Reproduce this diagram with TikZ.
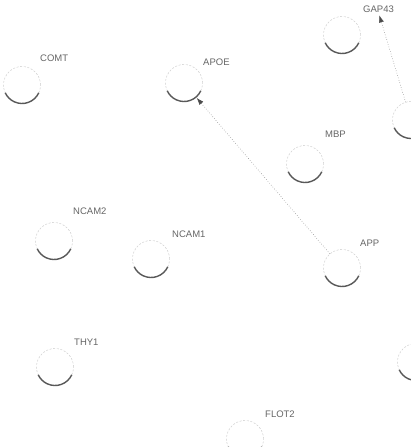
\documentclass[tikz,border=0pt]{standalone}
\usepackage{fontspec}
\setmainfont{Liberation Sans}
\usetikzlibrary{arrows.meta}
\tikzset{
  gene/.style={circle, minimum size=37pt, inner sep=0pt, draw=gray!45, line width=0.4pt, dash pattern=on 2pt off 1.6pt},
  genebottom/.style={draw=black!65, line width=1.4pt},
  genelabel/.style={anchor=west, inner sep=0pt, text=black!60, font=\fontsize{9.5}{10}\selectfont},
  link/.style={draw=black!55, line width=0.5pt, dotted, -{Latex[length=7pt,width=5pt,color=black!70]}},
}
\newcommand\genenode[3]{%
  \node[gene] (#1) at (#2,#3) {};
  \draw[genebottom] ([shift={(#2,#3)}]25:18.5) arc[start angle=25,end angle=155,radius=18.5];
}
\begin{document}
\begin{tikzpicture}[x=1pt,y=-1pt]
\useasboundingbox (0,0) rectangle (411,447);
\clip (0,0) rectangle (411,447);
\fill[white] (0,0) rectangle (411,447);
\genenode{COMT}{22}{85}
\genenode{APOE}{184}{83}
\genenode{GAP43}{342}{35}
\genenode{R1}{411}{120}
\genenode{MBP}{305}{164}
\genenode{NCAM2}{54}{241}
\genenode{NCAM1}{151}{259}
\genenode{APP}{342}{268}
\genenode{THY1}{55}{367}
\genenode{R2}{416}{362}
\genenode{FLOT2}{245}{439}
\node[genelabel] (COMT-l) at (40,58) {COMT};
\node[genelabel] (APOE-l) at (203,62) {APOE};
\node[genelabel] (GAP43-l) at (363,9) {GAP43};
\node[genelabel] (MBP-l) at (325,134) {MBP};
\node[genelabel] (NCAM2-l) at (73,211) {NCAM2};
\node[genelabel] (NCAM1-l) at (172,234) {NCAM1};
\node[genelabel] (APP-l) at (360,243) {APP};
\node[genelabel] (THY1-l) at (74,342) {THY1};
\node[genelabel] (FLOT2-l) at (265,414) {FLOT2};
\draw[link, shorten >=1pt] (APP) -- (APOE);
\draw[link, shorten >=3pt] (R1) -- (GAP43-l.south);
\end{tikzpicture}
\end{document}
